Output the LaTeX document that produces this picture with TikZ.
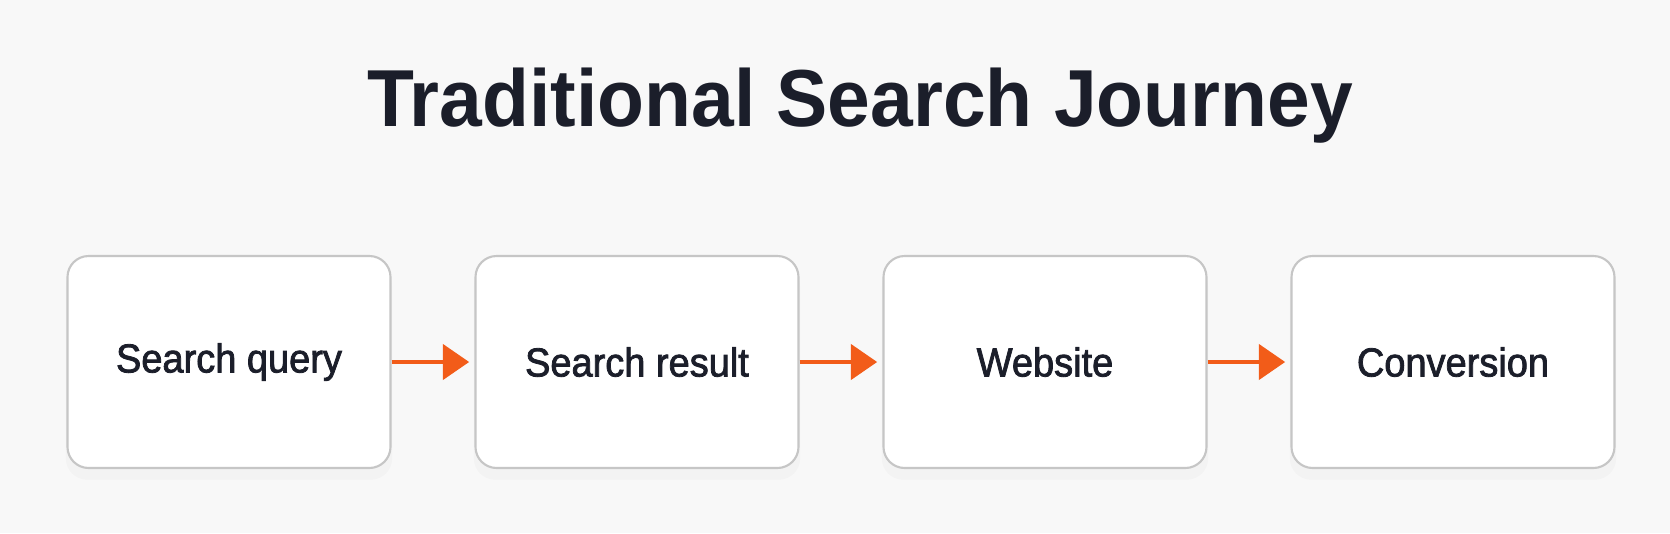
\documentclass[tikz,border=0pt]{standalone}
\usepackage{fontspec}
\setmainfont{Liberation Sans}
\newfontfamily\boxfont[FakeBold=2]{Liberation Sans}
\usepackage{xcolor}
\usetikzlibrary{arrows.meta, positioning, shadows}

\definecolor{bgcol}{HTML}{F8F8F8}
\definecolor{inkcol}{HTML}{1B1E2A}
\definecolor{edgecol}{HTML}{C6C6C6}
\definecolor{flowcol}{HTML}{F25C19}

\begin{document}
\begin{tikzpicture}[node distance=4.08cm, on grid, stage/.style={rectangle, rounded corners=6pt, draw=edgecol, line width=0.6pt, fill=white, minimum width=3.23cm, minimum height=2.12cm, align=center, font=\boxfont\fontsize{11.5}{14}\selectfont, text=inkcol, drop shadow={opacity=0.04, shadow xshift=0pt, shadow yshift=-3pt, shadow scale=1.01}}, flow/.style={-{Triangle[length=7.5pt, width=10pt]}, draw=flowcol, line width=1.2pt, shorten >=1.5pt}]

            \fill[bgcol] (0,0) rectangle (16.7,5.33);
            \useasboundingbox (0,0) rectangle (16.7,5.33);

            \node[anchor=base, font=\bfseries\fontsize{23}{28}\selectfont, text=inkcol] (title) at (8.6,4.07) {\scalebox{0.95}[1]{Traditional Search Journey}};

            \node[stage] (query) at (2.29,1.71) {\scalebox{0.94}[1]{Search query}};
            \node[stage, right=of query] (result) {\scalebox{0.94}[1]{Search result}};
            \node[stage, right=of result] (site) {\scalebox{0.94}[1]{Website}};
            \node[stage, right=of site] (conv) {\scalebox{0.94}[1]{Conversion}};

            \draw[flow] (query) -- (result);
            \draw[flow] (result) -- (site);
            \draw[flow] (site) -- (conv);

        \end{tikzpicture}
\end{document}
